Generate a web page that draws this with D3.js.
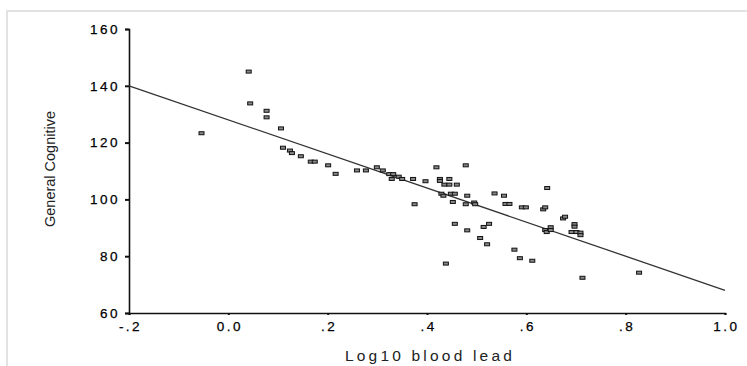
<!DOCTYPE html>
<html>
<head>
<meta charset="utf-8">
<script src="https://cdn.jsdelivr.net/npm/d3@7"></script>
<style>
  body { margin: 0; background: #fff; }
  svg { display: block; }
</style>
</head>
<body>
<div id="chart"></div>
<script>
// log10 blood lead (x) and general cognitive score (y)
var leadValues = [-0.054, 0.041, 0.044, 0.077, 0.077, 0.106, 0.110, 0.124, 0.128, 0.146,
  0.166, 0.174, 0.201, 0.216, 0.259, 0.277, 0.299, 0.311, 0.324, 0.332,
  0.329, 0.343, 0.350, 0.372, 0.375, 0.397, 0.419, 0.426, 0.426, 0.445,
  0.435, 0.445, 0.460, 0.478, 0.429, 0.433, 0.448, 0.456, 0.452, 0.481,
  0.478, 0.495, 0.497, 0.536, 0.555, 0.558, 0.566, 0.591, 0.599, 0.642,
  0.634, 0.638, 0.674, 0.678, 0.697, 0.697, 0.691, 0.701, 0.709, 0.709,
  0.638, 0.641, 0.649, 0.649, 0.456, 0.481, 0.507, 0.514, 0.525, 0.521,
  0.438, 0.576, 0.587, 0.612, 0.713, 0.827];
var cognitiveValues = [123.3, 145.0, 133.8, 131.2, 128.9, 125.0, 118.2, 117.2, 116.3, 115.2,
  113.3, 113.3, 112.0, 109.0, 110.2, 110.2, 111.3, 110.2, 108.9, 108.9,
  107.2, 108.0, 107.2, 107.2, 98.3, 106.4, 111.3, 107.2, 106.5, 107.2,
  105.2, 105.2, 105.2, 112.0, 102.0, 101.3, 102.0, 102.0, 99.1, 101.3,
  98.3, 98.9, 98.3, 102.1, 101.3, 98.4, 98.4, 97.2, 97.2, 104.0,
  96.5, 97.2, 93.3, 93.9, 91.3, 90.4, 88.5, 88.5, 88.3, 87.4,
  89.2, 88.5, 90.2, 89.2, 91.4, 89.1, 86.4, 90.3, 91.4, 84.2,
  77.4, 82.3, 79.3, 78.4, 72.4, 74.2];

// fitted line end points
var fitX = [-0.2, 1.0];
var fitY = [140, 68];

var xTicks = [-0.2, 0.0, 0.2, 0.4, 0.6, 0.8, 1.0];
var xTickLabels = ["-.2", "0.0", ".2", ".4", ".6", ".8", "1.0"];
var yTicks = [60, 80, 100, 120, 140, 160];

var width = 747, height = 366;
var plotLeft = 129, plotRight = 725, plotTop = 29, plotBottom = 313;

var svg = d3.select("#chart")
    .append("svg")
    .attr("width", width)
    .attr("height", height);

// light frame round the picture
svg.append("path")
    .attr("d", "M7,366 V11 H747")
    .attr("fill", "none")
    .attr("stroke", "#e2e2e2")
    .attr("stroke-width", 2);

var xScale = d3.scaleLinear().domain([-0.2, 1.0]).range([plotLeft, plotRight]);
var yScale = d3.scaleLinear().domain([60, 160]).range([plotBottom, plotTop]);

var xAxis = d3.axisBottom(xScale)
    .tickValues(xTicks)
    .tickSize(2)
    .tickPadding(4)
    .tickFormat(function (d, i) { return xTickLabels[i]; });
var yAxis = d3.axisLeft(yScale)
    .tickValues(yTicks)
    .tickSize(4)
    .tickPadding(8)
    .tickFormat(d3.format("d"));

var gx = svg.append("g")
    .attr("transform", "translate(0," + plotBottom + ")")
    .call(xAxis);
var gy = svg.append("g")
    .attr("transform", "translate(" + plotLeft + ",0)")
    .call(yAxis);

[gx, gy].forEach(function (g) {
    g.select(".domain").attr("stroke", "#111").attr("stroke-width", 1.6);
    g.selectAll(".tick line").attr("stroke", "#111").attr("stroke-width", 2);
    g.selectAll(".tick text")
        .attr("fill", "#000")
        .attr("font-family", "'Liberation Sans', Arial, sans-serif")
        .attr("font-size", "13.5px")
        .attr("stroke", "#000")
        .attr("stroke-width", 0.25)
        .attr("letter-spacing", "2.5px");
});
gx.selectAll(".tick text").attr("dy", "0.9em").attr("dx", "1px");
gy.selectAll(".tick text").attr("dx", "3px");

// regression line
svg.append("line")
    .attr("x1", xScale(fitX[0]))
    .attr("y1", yScale(fitY[0]))
    .attr("x2", xScale(fitX[1]))
    .attr("y2", yScale(fitY[1]))
    .attr("stroke", "#333")
    .attr("stroke-width", 1.3);

var dataset = leadValues.map(function (d, i) { return [d, cognitiveValues[i]]; });

svg.selectAll("rect.pt")
    .data(dataset)
    .enter()
    .append("rect")
    .attr("class", "pt")
    .attr("x", function (d) { return xScale(d[0]) - 2.5; })
    .attr("y", function (d) { return yScale(d[1]) - 1.5; })
    .attr("width", 5)
    .attr("height", 3)
    .attr("fill", "#888")
    .attr("stroke", "#111")
    .attr("stroke-width", 1);

// axis titles
svg.append("text")
    .attr("transform", "translate(55,169) rotate(-90)")
    .attr("text-anchor", "middle")
    .attr("font-family", "'Liberation Sans Narrow', 'Arial Narrow', 'Liberation Sans', sans-serif")
    .attr("font-size", "14.5px")
    .attr("fill", "#222")
    .text("General Cognitive");

svg.append("text")
    .attr("x", 430)
    .attr("y", 361)
    .attr("text-anchor", "middle")
    .attr("font-family", "'Liberation Sans', Arial, sans-serif")
    .attr("font-size", "15.5px")
    .attr("letter-spacing", "3.2px")
    .attr("fill", "#222")
    .text("Log10 blood lead");
</script>
</body>
</html>
